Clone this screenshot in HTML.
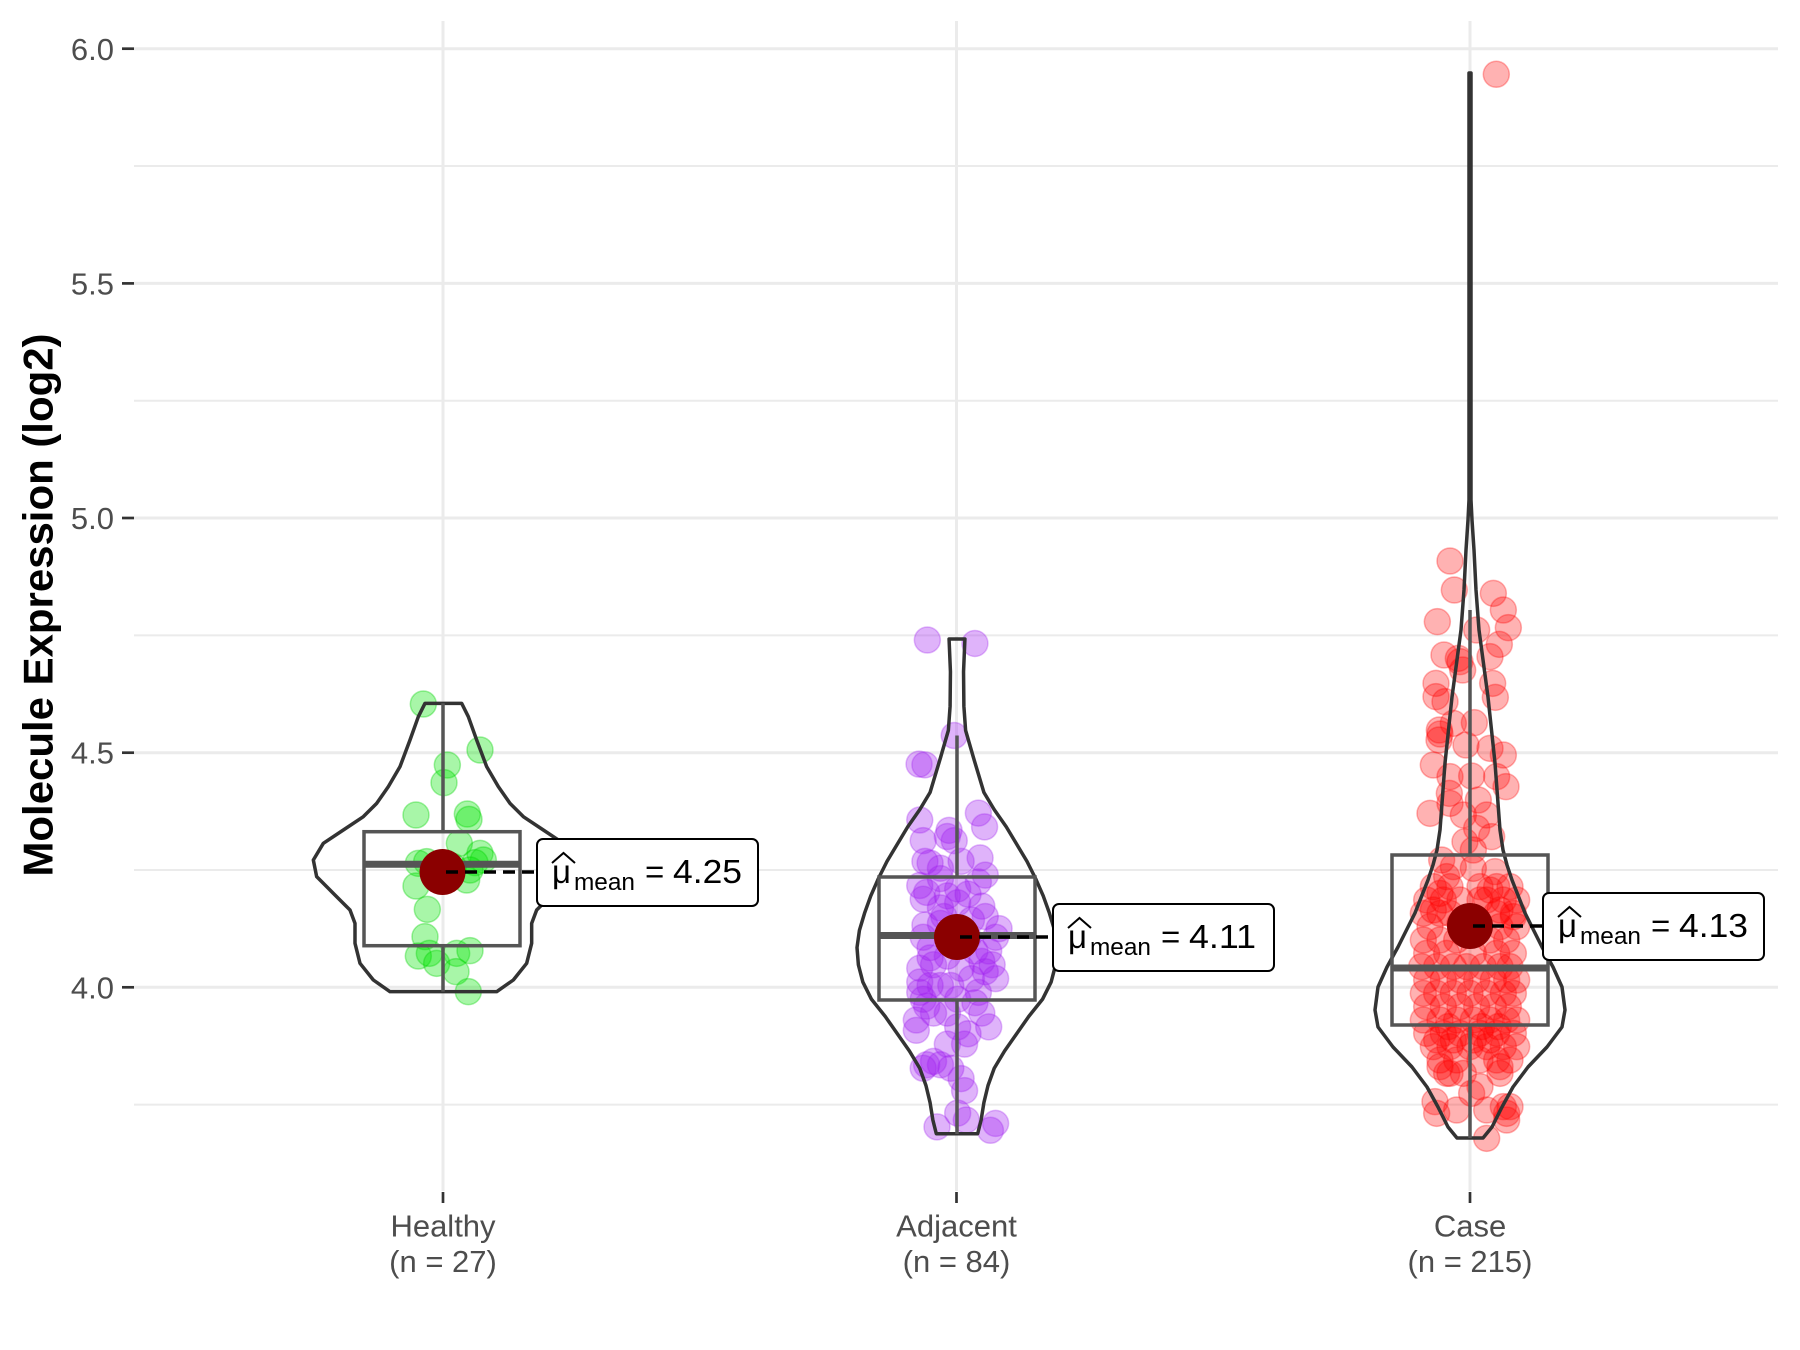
<!DOCTYPE html>
<html>
<head>
<meta charset="utf-8">
<style>
html,body{margin:0;padding:0;background:#fff;}
svg{display:block;}
.g{fill:#00E400;fill-opacity:.34;stroke:#00D000;stroke-opacity:.35;stroke-width:1.5;}
.p{fill:#A020F0;fill-opacity:.34;stroke:#A020F0;stroke-opacity:.3;stroke-width:1.5;}
.r{fill:#FF0000;fill-opacity:.3;stroke:#FF0000;stroke-opacity:.3;stroke-width:1.5;}
circle{vector-effect:non-scaling-stroke;}
.vio{fill:none;stroke:#333;stroke-width:3.5;stroke-linejoin:round;vector-effect:non-scaling-stroke;}
.box{fill:none;stroke:#555;stroke-width:3.5;}
.med{stroke:#555;stroke-width:7;}
.wh{stroke:#555;stroke-width:3.5;}
.tl{font-family:"Liberation Sans",Arial,sans-serif;font-size:31px;fill:#4D4D4D;}
.lab{font-family:"Liberation Sans",Arial,sans-serif;fill:#000;}
</style>
</head>
<body>
<svg width="1800" height="1350" viewBox="0 0 1800 1350" xmlns="http://www.w3.org/2000/svg">
<rect width="1800" height="1350" fill="#fff"/>
<!-- grid -->
<g stroke="#EBEBEB">
<g stroke-width="2">
<line x1="134" x2="1778" y1="166" y2="166"/>
<line x1="134" x2="1778" y1="400.7" y2="400.7"/>
<line x1="134" x2="1778" y1="635.4" y2="635.4"/>
<line x1="134" x2="1778" y1="870" y2="870"/>
<line x1="134" x2="1778" y1="1104.6" y2="1104.6"/>
</g>
<g stroke-width="3">
<line x1="134" x2="1778" y1="48.7" y2="48.7"/>
<line x1="134" x2="1778" y1="283.4" y2="283.4"/>
<line x1="134" x2="1778" y1="518" y2="518"/>
<line x1="134" x2="1778" y1="752.7" y2="752.7"/>
<line x1="134" x2="1778" y1="987.3" y2="987.3"/>
<line x1="443" x2="443" y1="21" y2="1191"/>
<line x1="956.5" x2="956.5" y1="21" y2="1191"/>
<line x1="1470" x2="1470" y1="21" y2="1191"/>
</g>
</g>

<!-- Healthy points -->
<g transform="translate(300,680) scale(0.33333)">
<circle class="g" r="39" cx="370" cy="72"/><circle class="g" r="39" cx="540" cy="210"/><circle class="g" r="39" cx="442" cy="255"/>
<circle class="g" r="39" cx="432" cy="308"/><circle class="g" r="39" cx="348" cy="405"/><circle class="g" r="39" cx="502" cy="402"/>
<circle class="g" r="39" cx="507" cy="418"/><circle class="g" r="39" cx="478" cy="490"/><circle class="g" r="39" cx="540" cy="520"/>
<circle class="g" r="39" cx="550" cy="540"/><circle class="g" r="39" cx="525" cy="548"/><circle class="g" r="39" cx="355" cy="550"/>
<circle class="g" r="39" cx="510" cy="570"/><circle class="g" r="39" cx="348" cy="618"/><circle class="g" r="39" cx="382" cy="688"/>
<circle class="g" r="39" cx="375" cy="770"/><circle class="g" r="39" cx="355" cy="828"/><circle class="g" r="39" cx="388" cy="820"/>
<circle class="g" r="39" cx="410" cy="850"/><circle class="g" r="39" cx="470" cy="820"/><circle class="g" r="39" cx="510" cy="812"/>
<circle class="g" r="39" cx="468" cy="875"/><circle class="g" r="39" cx="505" cy="935"/><circle class="g" r="39" cx="440" cy="580"/>
<circle class="g" r="39" cx="500" cy="600"/><circle class="g" r="39" cx="380" cy="545"/><circle class="g" r="39" cx="460" cy="560"/>
<path class="vio" d="M375,70 L355,110 L330,180 L300,260 L265,320 L230,370 L190,410 L130,450 L70,490 L40,540 L50,590 L100,640 L150,690 L165,730 L165,790 L180,850 L220,900 L270,935 L590,935 L640,900 L680,850 L695,790 L695,730 L710,690 L760,640 L810,590 L820,540 L790,490 L730,450 L670,410 L630,370 L595,320 L560,260 L530,180 L505,110 L485,70 Z"/>
</g>

<!-- Adjacent points -->
<g transform="translate(837,620) scale(0.3448)">
<circle class="p" r="37.7" cx="262" cy="58"/><circle class="p" r="37.7" cx="400" cy="68"/><circle class="p" r="37.7" cx="340" cy="335"/>
<circle class="p" r="37.7" cx="238" cy="418"/><circle class="p" r="37.7" cx="255" cy="420"/><circle class="p" r="37.7" cx="240" cy="580"/>
<circle class="p" r="37.7" cx="325" cy="610"/><circle class="p" r="37.7" cx="320" cy="628"/><circle class="p" r="37.7" cx="410" cy="560"/>
<circle class="p" r="37.7" cx="428" cy="600"/><circle class="p" r="37.7" cx="250" cy="640"/><circle class="p" r="37.7" cx="340" cy="640"/>
<circle class="p" r="37.7" cx="255" cy="700"/><circle class="p" r="37.7" cx="270" cy="705"/><circle class="p" r="37.7" cx="300" cy="720"/>
<circle class="p" r="37.7" cx="415" cy="690"/><circle class="p" r="37.7" cx="430" cy="740"/><circle class="p" r="37.7" cx="240" cy="770"/>
<circle class="p" r="37.7" cx="260" cy="790"/><circle class="p" r="37.7" cx="350" cy="780"/><circle class="p" r="37.7" cx="380" cy="795"/>
<circle class="p" r="37.7" cx="250" cy="810"/><circle class="p" r="37.7" cx="420" cy="830"/><circle class="p" r="37.7" cx="350" cy="820"/>
<circle class="p" r="37.7" cx="300" cy="835"/><circle class="p" r="37.7" cx="430" cy="860"/><circle class="p" r="37.7" cx="255" cy="885"/>
<circle class="p" r="37.7" cx="310" cy="860"/><circle class="p" r="37.7" cx="390" cy="870"/><circle class="p" r="37.7" cx="470" cy="895"/>
<circle class="p" r="37.7" cx="460" cy="920"/><circle class="p" r="37.7" cx="250" cy="920"/><circle class="p" r="37.7" cx="300" cy="880"/>
<circle class="p" r="37.7" cx="270" cy="980"/><circle class="p" r="37.7" cx="320" cy="975"/><circle class="p" r="37.7" cx="420" cy="990"/>
<circle class="p" r="37.7" cx="460" cy="1040"/><circle class="p" r="37.7" cx="240" cy="1050"/><circle class="p" r="37.7" cx="300" cy="1060"/>
<circle class="p" r="37.7" cx="250" cy="1100"/><circle class="p" r="37.7" cx="330" cy="1060"/><circle class="p" r="37.7" cx="390" cy="1040"/>
<circle class="p" r="37.7" cx="410" cy="1080"/><circle class="p" r="37.7" cx="260" cy="1120"/><circle class="p" r="37.7" cx="320" cy="1140"/>
<circle class="p" r="37.7" cx="400" cy="1110"/><circle class="p" r="37.7" cx="420" cy="1140"/><circle class="p" r="37.7" cx="230" cy="1160"/>
<circle class="p" r="37.7" cx="440" cy="1180"/><circle class="p" r="37.7" cx="350" cy="1180"/><circle class="p" r="37.7" cx="230" cy="1190"/>
<circle class="p" r="37.7" cx="320" cy="1230"/><circle class="p" r="37.7" cx="370" cy="1230"/><circle class="p" r="37.7" cx="280" cy="1280"/>
<circle class="p" r="37.7" cx="260" cy="1290"/><circle class="p" r="37.7" cx="300" cy="1290"/><circle class="p" r="37.7" cx="250" cy="1300"/>
<circle class="p" r="37.7" cx="360" cy="1330"/><circle class="p" r="37.7" cx="370" cy="1365"/><circle class="p" r="37.7" cx="290" cy="1470"/>
<circle class="p" r="37.7" cx="375" cy="1450"/><circle class="p" r="37.7" cx="460" cy="1460"/><circle class="p" r="37.7" cx="445" cy="1480"/>
<circle class="p" r="37.7" cx="280" cy="1140"/><circle class="p" r="37.7" cx="360" cy="1010"/><circle class="p" r="37.7" cx="280" cy="1000"/>
<circle class="p" r="37.7" cx="330" cy="900"/><circle class="p" r="37.7" cx="380" cy="920"/><circle class="p" r="37.7" cx="400" cy="960"/>
<circle class="p" r="37.7" cx="240" cy="1080"/><circle class="p" r="37.7" cx="350" cy="1100"/><circle class="p" r="37.7" cx="430" cy="1020"/>
<circle class="p" r="37.7" cx="300" cy="750"/><circle class="p" r="37.7" cx="360" cy="700"/><circle class="p" r="37.7" cx="240" cy="1010"/>
<circle class="p" r="37.7" cx="440" cy="960"/><circle class="p" r="37.7" cx="270" cy="950"/><circle class="p" r="37.7" cx="410" cy="760"/>
<circle class="p" r="37.7" cx="320" cy="800"/><circle class="p" r="37.7" cx="450" cy="1000"/><circle class="p" r="37.7" cx="380" cy="1200"/>
<circle class="p" r="37.7" cx="330" cy="1300"/><circle class="p" r="37.7" cx="350" cy="1430"/><circle class="p" r="37.7" cx="270" cy="1060"/>
<path class="vio" d="M325,55 L329,150 L328,250 L323,320 L300,400 L285,450 L270,500 L240,550 L205,600 L175,650 L145,700 L120,750 L98,800 L80,850 L65,900 L58,950 L62,1000 L75,1050 L100,1100 L140,1150 L175,1200 L210,1250 L240,1300 L258,1350 L270,1400 L278,1450 L288,1490 L408,1490 L418,1450 L426,1400 L438,1350 L456,1300 L486,1250 L521,1200 L556,1150 L596,1100 L621,1050 L634,1000 L638,950 L631,900 L616,850 L598,800 L576,750 L551,700 L521,650 L491,600 L456,550 L426,500 L411,450 L396,400 L373,320 L368,250 L367,150 L371,55 Z"/>
</g>

<!-- Case points -->
<circle class="r" r="13" cx="1496.3" cy="74.3"/>
<g transform="translate(1340,530) scale(0.33333)">
<circle class="r" r="39" cx="330" cy="93"/><circle class="r" r="39" cx="343" cy="180"/><circle class="r" r="39" cx="460" cy="190"/>
<circle class="r" r="39" cx="490" cy="240"/><circle class="r" r="39" cx="292" cy="275"/><circle class="r" r="39" cx="505" cy="293"/>
<circle class="r" r="39" cx="410" cy="300"/><circle class="r" r="39" cx="478" cy="343"/><circle class="r" r="39" cx="312" cy="375"/>
<circle class="r" r="39" cx="355" cy="385"/><circle class="r" r="39" cx="450" cy="380"/><circle class="r" r="39" cx="368" cy="420"/>
<circle class="r" r="39" cx="360" cy="395"/><circle class="r" r="39" cx="288" cy="460"/><circle class="r" r="39" cx="458" cy="460"/>
<circle class="r" r="39" cx="288" cy="500"/><circle class="r" r="39" cx="315" cy="515"/><circle class="r" r="39" cx="466" cy="502"/>
<circle class="r" r="39" cx="340" cy="580"/><circle class="r" r="39" cx="403" cy="578"/><circle class="r" r="39" cx="298" cy="600"/>
<circle class="r" r="39" cx="297" cy="630"/><circle class="r" r="39" cx="300" cy="612"/><circle class="r" r="39" cx="378" cy="645"/>
<circle class="r" r="39" cx="450" cy="655"/><circle class="r" r="39" cx="490" cy="675"/><circle class="r" r="39" cx="280" cy="705"/>
<circle class="r" r="39" cx="330" cy="740"/><circle class="r" r="39" cx="395" cy="738"/><circle class="r" r="39" cx="470" cy="740"/>
<circle class="r" r="39" cx="498" cy="770"/><circle class="r" r="39" cx="328" cy="790"/><circle class="r" r="39" cx="330" cy="820"/>
<circle class="r" r="39" cx="415" cy="810"/><circle class="r" r="39" cx="270" cy="850"/><circle class="r" r="39" cx="440" cy="855"/>
<circle class="r" r="39" cx="370" cy="855"/><circle class="r" r="39" cx="410" cy="895"/><circle class="r" r="39" cx="455" cy="920"/>
<circle class="r" r="39" cx="375" cy="935"/><circle class="r" r="39" cx="400" cy="960"/><circle class="r" r="39" cx="305" cy="990"/>
<circle class="r" r="39" cx="340" cy="1010"/><circle class="r" r="39" cx="465" cy="1025"/><circle class="r" r="39" cx="400" cy="1015"/>
<circle class="r" r="39" cx="320" cy="1040"/><circle class="r" r="39" cx="280" cy="1140"/><circle class="r" r="39" cx="330" cy="1150"/>
<circle class="r" r="39" cx="420" cy="1110"/><circle class="r" r="39" cx="480" cy="1140"/><circle class="r" r="39" cx="520" cy="1160"/>
<circle class="r" r="39" cx="360" cy="1180"/><circle class="r" r="39" cx="300" cy="1090"/><circle class="r" r="39" cx="450" cy="1080"/>
</g>
<g transform="translate(1340,880) scale(0.33333)">
<circle class="r" r="39" cx="280" cy="20"/><circle class="r" r="39" cx="330" cy="20"/><circle class="r" r="39" cx="420" cy="20"/><circle class="r" r="39" cx="470" cy="20"/><circle class="r" r="39" cx="510" cy="20"/>
<circle class="r" r="39" cx="260" cy="60"/><circle class="r" r="39" cx="310" cy="60"/><circle class="r" r="39" cx="360" cy="60"/><circle class="r" r="39" cx="440" cy="60"/><circle class="r" r="39" cx="490" cy="60"/><circle class="r" r="39" cx="530" cy="60"/>
<circle class="r" r="39" cx="250" cy="100"/><circle class="r" r="39" cx="300" cy="100"/><circle class="r" r="39" cx="470" cy="100"/><circle class="r" r="39" cx="520" cy="100"/>
<circle class="r" r="39" cx="270" cy="140"/><circle class="r" r="39" cx="480" cy="140"/><circle class="r" r="39" cx="530" cy="140"/>
<circle class="r" r="39" cx="250" cy="180"/><circle class="r" r="39" cx="300" cy="180"/><circle class="r" r="39" cx="350" cy="180"/><circle class="r" r="39" cx="450" cy="180"/><circle class="r" r="39" cx="500" cy="180"/>
<circle class="r" r="39" cx="260" cy="220"/><circle class="r" r="39" cx="320" cy="220"/><circle class="r" r="39" cx="400" cy="220"/><circle class="r" r="39" cx="470" cy="220"/><circle class="r" r="39" cx="520" cy="220"/>
<circle class="r" r="39" cx="245" cy="260"/><circle class="r" r="39" cx="290" cy="260"/><circle class="r" r="39" cx="340" cy="260"/><circle class="r" r="39" cx="380" cy="260"/><circle class="r" r="39" cx="430" cy="260"/><circle class="r" r="39" cx="480" cy="260"/><circle class="r" r="39" cx="510" cy="260"/>
<circle class="r" r="39" cx="260" cy="300"/><circle class="r" r="39" cx="310" cy="300"/><circle class="r" r="39" cx="360" cy="300"/><circle class="r" r="39" cx="410" cy="300"/><circle class="r" r="39" cx="460" cy="300"/><circle class="r" r="39" cx="500" cy="300"/><circle class="r" r="39" cx="530" cy="300"/>
<circle class="r" r="39" cx="250" cy="340"/><circle class="r" r="39" cx="290" cy="340"/><circle class="r" r="39" cx="340" cy="340"/><circle class="r" r="39" cx="390" cy="340"/><circle class="r" r="39" cx="440" cy="340"/><circle class="r" r="39" cx="490" cy="340"/><circle class="r" r="39" cx="520" cy="340"/>
<circle class="r" r="39" cx="260" cy="380"/><circle class="r" r="39" cx="310" cy="380"/><circle class="r" r="39" cx="360" cy="380"/><circle class="r" r="39" cx="410" cy="380"/><circle class="r" r="39" cx="460" cy="380"/><circle class="r" r="39" cx="505" cy="380"/>
<circle class="r" r="39" cx="250" cy="420"/><circle class="r" r="39" cx="300" cy="420"/><circle class="r" r="39" cx="350" cy="420"/><circle class="r" r="39" cx="400" cy="420"/><circle class="r" r="39" cx="450" cy="420"/><circle class="r" r="39" cx="500" cy="420"/><circle class="r" r="39" cx="530" cy="420"/>
<circle class="r" r="39" cx="260" cy="460"/><circle class="r" r="39" cx="310" cy="460"/><circle class="r" r="39" cx="360" cy="460"/><circle class="r" r="39" cx="420" cy="460"/><circle class="r" r="39" cx="470" cy="460"/><circle class="r" r="39" cx="520" cy="460"/>
<circle class="r" r="39" cx="280" cy="500"/><circle class="r" r="39" cx="330" cy="500"/><circle class="r" r="39" cx="390" cy="500"/><circle class="r" r="39" cx="440" cy="500"/><circle class="r" r="39" cx="490" cy="500"/><circle class="r" r="39" cx="530" cy="500"/>
<circle class="r" r="39" cx="300" cy="540"/><circle class="r" r="39" cx="350" cy="540"/><circle class="r" r="39" cx="420" cy="540"/><circle class="r" r="39" cx="470" cy="540"/><circle class="r" r="39" cx="510" cy="540"/>
<circle class="r" r="39" cx="320" cy="580"/><circle class="r" r="39" cx="370" cy="580"/><circle class="r" r="39" cx="480" cy="580"/>
<circle class="r" r="39" cx="325" cy="440"/><circle class="r" r="39" cx="425" cy="440"/><circle class="r" r="39" cx="475" cy="440"/>
<circle class="r" r="39" cx="290" cy="480"/><circle class="r" r="39" cx="400" cy="480"/><circle class="r" r="39" cx="450" cy="480"/><circle class="r" r="39" cx="340" cy="480"/>
<circle class="r" r="39" cx="285" cy="665"/><circle class="r" r="39" cx="290" cy="700"/><circle class="r" r="39" cx="350" cy="690"/>
<circle class="r" r="39" cx="395" cy="640"/><circle class="r" r="39" cx="420" cy="620"/><circle class="r" r="39" cx="440" cy="690"/>
<circle class="r" r="39" cx="490" cy="680"/><circle class="r" r="39" cx="510" cy="680"/><circle class="r" r="39" cx="500" cy="720"/>
<circle class="r" r="39" cx="440" cy="775"/><circle class="r" r="39" cx="300" cy="560"/><circle class="r" r="39" cx="330" cy="580"/>
<circle class="r" r="39" cx="480" cy="560"/><circle class="r" r="39" cx="500" cy="700"/>
</g>
<path class="vio" d="M1469,73 L1469,500 L1468,520 L1466,550 L1464,590 L1461,630 L1452,697 L1445,763 L1440,830 L1437,850 L1433,865 L1428,880 L1415,913 L1398,947 L1387,967 L1378,987 L1375,1010 L1378,1027 L1393,1047 L1412,1067 L1427,1087 L1438,1107 L1448,1127 L1457,1138 L1483,1138 L1492,1127 L1502,1107 L1513,1087 L1528,1067 L1547,1047 L1562,1027 L1565,1010 L1562,987 L1553,967 L1542,947 L1525,913 L1512,880 L1507,865 L1503,850 L1500,830 L1495,763 L1488,697 L1479,630 L1476,590 L1474,550 L1472,520 L1471,500 L1471,73 Z"/>

<!-- boxplots -->
<line class="wh" x1="443" x2="443" y1="703.3" y2="831.7"/>
<line class="wh" x1="443" x2="443" y1="945.7" y2="991.7"/>
<rect class="box" x="364" y="831.7" width="156" height="114"/>
<line class="med" x1="364" x2="520" y1="864.3" y2="864.3"/>

<line class="wh" x1="957" x2="957" y1="735.5" y2="877"/>
<line class="wh" x1="957" x2="957" y1="1000" y2="1134"/>
<rect class="box" x="879" y="877" width="156" height="123"/>
<line class="med" x1="879" x2="1035" y1="935.5" y2="935.5"/>

<line class="wh" x1="1470" x2="1470" y1="610" y2="855"/>
<line class="wh" x1="1470" x2="1470" y1="1025" y2="1138"/>
<rect class="box" x="1392" y="855" width="156" height="170"/>
<line class="med" x1="1392" x2="1548" y1="968" y2="968"/>

<!-- means -->
<circle cx="442.5" cy="872" r="23" fill="#8B0000"/>
<circle cx="957" cy="937" r="23" fill="#8B0000"/>
<circle cx="1470" cy="926" r="23" fill="#8B0000"/>
<g stroke="#000" stroke-width="3.5" stroke-dasharray="12 7">
<line x1="446" x2="537" y1="872" y2="872"/>
<line x1="960" x2="1053" y1="937" y2="937"/>
<line x1="1473" x2="1543" y1="926" y2="926"/>
</g>

<!-- labels -->
<g>
<rect x="537" y="839" width="221" height="67" rx="6" fill="#fff" stroke="#000" stroke-width="2"/>
<polyline points="552,863 563.5,853 575,863" fill="none" stroke="#000" stroke-width="2"/>
<text class="lab" x="552" y="883" font-size="33">μ</text>
<text class="lab" x="574" y="890" font-size="24" textLength="61" lengthAdjust="spacingAndGlyphs">mean</text>
<text class="lab" x="645" y="883" font-size="33">=</text>
<text class="lab" x="673" y="883" font-size="33" textLength="69" lengthAdjust="spacingAndGlyphs">4.25</text>
</g>
<g>
<rect x="1053" y="904" width="221" height="67" rx="6" fill="#fff" stroke="#000" stroke-width="2"/>
<polyline points="1068,928 1079.5,918 1091,928" fill="none" stroke="#000" stroke-width="2"/>
<text class="lab" x="1068" y="948" font-size="33">μ</text>
<text class="lab" x="1090" y="955" font-size="24" textLength="61" lengthAdjust="spacingAndGlyphs">mean</text>
<text class="lab" x="1161" y="948" font-size="33">=</text>
<text class="lab" x="1189" y="948" font-size="33" textLength="67" lengthAdjust="spacingAndGlyphs">4.11</text>
</g>
<g>
<rect x="1543" y="893" width="221" height="67" rx="6" fill="#fff" stroke="#000" stroke-width="2"/>
<polyline points="1558,917 1569.5,907 1581,917" fill="none" stroke="#000" stroke-width="2"/>
<text class="lab" x="1558" y="937" font-size="33">μ</text>
<text class="lab" x="1580" y="944" font-size="24" textLength="61" lengthAdjust="spacingAndGlyphs">mean</text>
<text class="lab" x="1651" y="937" font-size="33">=</text>
<text class="lab" x="1679" y="937" font-size="33" textLength="69" lengthAdjust="spacingAndGlyphs">4.13</text>
</g>

<!-- axes ticks -->
<g stroke="#333" stroke-width="2.7">
<line x1="122" x2="134" y1="48.7" y2="48.7"/>
<line x1="122" x2="134" y1="283.4" y2="283.4"/>
<line x1="122" x2="134" y1="518" y2="518"/>
<line x1="122" x2="134" y1="752.7" y2="752.7"/>
<line x1="122" x2="134" y1="987.3" y2="987.3"/>
<line x1="443" x2="443" y1="1192" y2="1203"/>
<line x1="956.5" x2="956.5" y1="1192" y2="1203"/>
<line x1="1470" x2="1470" y1="1192" y2="1203"/>
</g>
<g class="tl" text-anchor="end">
<text x="114" y="60">6.0</text>
<text x="114" y="294.5">5.5</text>
<text x="114" y="529">5.0</text>
<text x="114" y="763.7">4.5</text>
<text x="114" y="998.3">4.0</text>
</g>
<g class="tl" text-anchor="middle">
<text x="443" y="1236.5">Healthy</text>
<text x="443" y="1272">(n = 27)</text>
<text x="956.5" y="1236.5">Adjacent</text>
<text x="956.5" y="1272">(n = 84)</text>
<text x="1470" y="1236.5">Case</text>
<text x="1470" y="1272">(n = 215)</text>
</g>
<text transform="translate(52.5,605) rotate(-90)" text-anchor="middle" font-family="Liberation Sans, Arial, sans-serif" font-weight="bold" font-size="42" fill="#000" textLength="543" lengthAdjust="spacingAndGlyphs">Molecule Expression (log2)</text>
</svg>
</body>
</html>
